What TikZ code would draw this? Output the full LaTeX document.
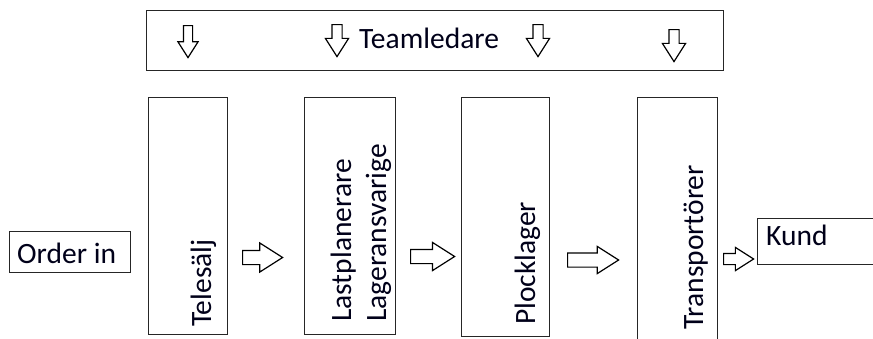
\documentclass[tikz,border=0pt]{standalone}
\usepackage{fontspec}
\setmainfont{Carlito}
\usetikzlibrary{shapes.arrows}
\tikzset{
  box/.style={draw=black!85, line width=1.3pt, fill=none, inner sep=0pt, anchor=north west},
  lbl/.style={inner sep=0pt, text=black!90!blue, font=\fontsize{29.5pt}{35pt}\selectfont, anchor=base west},
  vlbl/.style={lbl, rotate=90},
  barrow/.style={single arrow, draw=black, fill=white, line width=1.2pt, inner xsep=0pt,
    single arrow tip angle=65, anchor=tail},
  darrow/.style={barrow, rotate=-90, minimum height=32pt}
}
\begin{document}
\begin{tikzpicture}[x=1pt,y=-1pt]
\useasboundingbox (0,0) rectangle (873,338);
% boxes
\node[box, minimum width=577pt, minimum height=60pt] (team) at (146,10) {};
\node[box, minimum width=121pt, minimum height=41pt] (order) at (9,231) {};
\node[box, minimum width=79pt, minimum height=237pt] (tele) at (148,97) {};
\node[box, minimum width=91pt, minimum height=237pt] (last) at (304,97) {};
\node[box, minimum width=88pt, minimum height=239pt] (plock) at (461,97) {};
\node[box, minimum width=80pt, minimum height=260pt] (trans) at (637,97) {};
\node[box, minimum width=130pt, minimum height=46pt] (kund) at (757,218) {};
% texts
\node[lbl] (teamtxt) at (359,48) {Teamledare};
\node[lbl] (ordertxt) at (17,263) {Order in};
\node[lbl] (kundtxt) at (766,245) {Kund};
\node[vlbl] (teletxt) at (211,327) {Telesälj};
\node[vlbl] (lastA) at (351,322) {Lastplanerare};
\node[vlbl] (lastB) at (386,322) {Lageransvarige};
\node[vlbl] (plocktxt) at (535,325) {Plocklager};
\node[vlbl] (transtxt) at (703,330) {Transportörer};
% block arrows between boxes
\node[barrow, minimum height=40pt, inner ysep=6.5pt, single arrow head extend=7.5pt] (a1) at (242,257.5) {};
\node[barrow, minimum height=44pt, inner ysep=6.5pt, single arrow head extend=7pt] (a2) at (410,256.5) {};
\node[barrow, minimum height=51pt, inner ysep=6.5pt, single arrow head extend=6.5pt] (a3) at (567,260) {};
\node[barrow, minimum height=30pt, inner ysep=5pt, single arrow head extend=6pt] (a4) at (723,259) {};
% down arrows in the Teamledare box
\node[darrow, inner ysep=4pt, single arrow head extend=5.5pt] (d1) at (188,25) {};
\node[darrow, inner ysep=4.5pt, single arrow head extend=6.5pt] (d2) at (337,24) {};
\node[darrow, inner ysep=4.5pt, single arrow head extend=6.5pt] (d3) at (538,24) {};
\node[darrow, inner ysep=4.5pt, single arrow head extend=6.5pt] (d4) at (674,29) {};
\end{tikzpicture}
\end{document}
